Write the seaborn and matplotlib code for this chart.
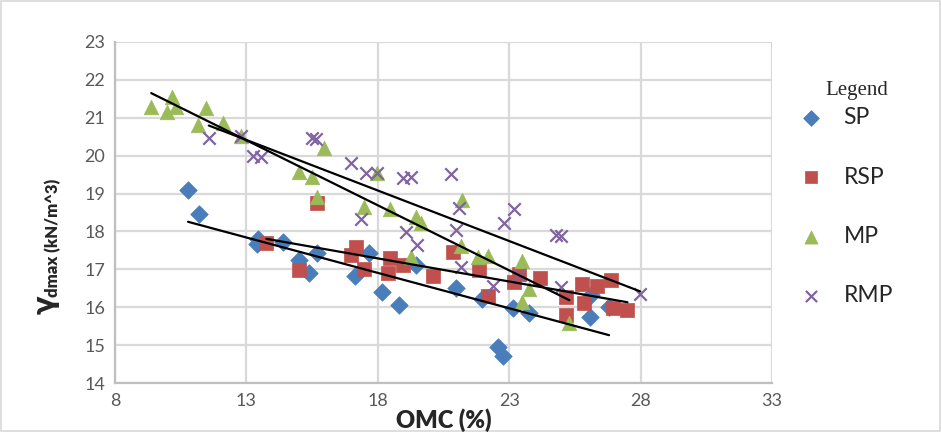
import seaborn as sns
import matplotlib.pyplot as plt
from matplotlib.patches import Rectangle

# OMC (%) and dry density values for each mix
sp_omc = [10.78, 11.19, 13.45, 13.4, 14.4, 15.0, 15.4, 15.68, 17.15, 17.67, 18.15,
          18.8, 19.46, 20.98, 21.97, 22.59, 22.78, 23.13, 23.77, 26.08, 26.1, 26.8]
sp_gd = [19.1, 18.45, 17.8, 17.67, 17.73, 17.25, 16.9, 17.44, 16.83, 17.42, 16.41,
         16.06, 17.11, 16.52, 16.21, 14.95, 14.71, 15.97, 15.84, 15.75, 16.32, 16.0]

rsp_omc = [13.76, 15.0, 15.67, 16.99, 17.18, 17.46, 18.38, 18.47, 18.95, 20.09, 20.88, 21.84,
           22.18, 23.2, 23.39, 24.18, 25.16, 25.16, 25.77, 25.86, 26.34, 26.87, 26.96, 27.5]
rsp_gd = [17.69, 16.98, 18.74, 17.38, 17.6, 17.0, 16.91, 17.29, 17.11, 16.82, 17.46, 16.98,
          16.3, 16.67, 16.89, 16.76, 16.28, 15.79, 16.61, 16.1, 16.56, 16.72, 15.97, 15.93]

mp_omc = [9.38, 9.99, 10.18, 10.33, 11.16, 11.47, 12.11, 12.78, 15.0, 15.5, 15.7, 15.97, 17.49,
          17.98, 18.47, 19.27, 19.46, 19.65, 21.17, 21.19, 21.8, 22.18, 23.49, 23.49, 23.74, 25.29]
mp_gd = [21.29, 21.14, 21.54, 21.29, 20.81, 21.25, 20.85, 20.52, 19.58, 19.43, 18.92, 20.19, 18.65,
         19.53, 18.58, 17.33, 18.39, 18.23, 17.61, 18.83, 17.33, 17.36, 17.23, 16.15, 16.48, 15.59]

rmp_omc = [11.57, 12.78, 13.27, 13.57, 15.5, 15.66, 16.99, 17.37, 17.56, 17.96, 18.95, 19.08, 19.27,
           19.48, 20.79, 20.98, 21.08, 21.17, 22.38, 22.79, 23.17, 23.39, 24.78, 24.97, 24.97, 27.98]
rmp_gd = [20.46, 20.52, 19.99, 19.97, 20.46, 20.43, 19.81, 18.32, 19.53, 19.53, 19.4, 17.99, 19.43,
          17.64, 19.51, 18.04, 18.61, 17.05, 16.56, 18.21, 18.58, 16.85, 17.91, 17.88, 16.54, 16.35]

x_ticks = [8, 13, 18, 23, 28, 33]
y_ticks = [14, 15, 16, 17, 18, 19, 20, 21, 22, 23]

sns.set_style("white")
plt.rcParams['font.family'] = ['Lato', 'DejaVu Sans']

fig = plt.figure(figsize=(9.42, 4.32), dpi=100)
ax = fig.add_axes([115 / 942, 1 - 383 / 432, 657 / 942, 341 / 432])

series = [
    ("SP", sp_omc, sp_gd, "#4a7ebb", "D", 80),
    ("RSP", rsp_omc, rsp_gd, "#c0504d", "s", 105),
    ("MP", mp_omc, mp_gd, "#9bbb59", "^", 110),
    ("RMP", rmp_omc, rmp_gd, "#8064a2", "x", 80),
]

for name, xs, ys, col, mk, sz in series:
    if mk == "x":
        sns.scatterplot(x=xs, y=ys, ax=ax, marker=mk, color=col, s=sz,
                        linewidth=1.6, label=name, zorder=3)
    else:
        sns.scatterplot(x=xs, y=ys, ax=ax, marker=mk, color=col, s=sz,
                        edgecolor=col, linewidth=0.5, label=name, zorder=3)

# linear trendlines over each data range
for name, xs, ys, col, mk, sz in series:
    sns.regplot(x=xs, y=ys, ax=ax, scatter=False, ci=None, truncate=True,
                color="black", line_kws={"linewidth": 1.6, "zorder": 4})

ax.set_xlim(8, 33)
ax.set_ylim(14, 23)
ax.set_xticks(x_ticks)
ax.set_yticks(y_ticks)
ax.grid(True, color="#d9d9d9", linewidth=1.6)
ax.set_axisbelow(True)
for side in ["top", "right"]:
    ax.spines[side].set_visible(False)
for side in ["left", "bottom"]:
    ax.spines[side].set_color("#bfbfbf")
    ax.spines[side].set_linewidth(1.6)
ax.tick_params(axis="both", length=0, labelsize=13, labelcolor="#595959", pad=7)
ax.set_xlabel("")
ax.set_ylabel("")

# axis titles
fig.text(444 / 942, 1 - 420 / 432, "OMC (%)", ha="center", va="center",
         fontsize=17, fontweight="heavy")
fig.text(46 / 942, 1 - 305 / 432, "γ", rotation=90, ha="center", va="center",
         fontsize=20, fontweight="bold", family="DejaVu Sans")
fig.text(53 / 942, 1 - 297 / 432, "dmax (kN/m^3)", rotation=90, ha="center", va="bottom",
         fontsize=12, fontweight="heavy")

handles, labels = ax.get_legend_handles_labels()
ax.legend(handles, labels, loc="upper left", bbox_to_anchor=(800 / 942, 1 - 107 / 432),
          bbox_transform=fig.transFigure, frameon=False,
          prop={"size": 16.5}, labelspacing=1.68, handletextpad=0.9,
          handlelength=1.0, borderpad=0, borderaxespad=0, markerscale=0.9)
fig.text(857 / 942, 1 - 90 / 432, "Legend", ha="center", va="center",
         fontsize=15, family="Liberation Serif")

# chart area border
fig.add_artist(Rectangle((0.001, 0.002), 0.997, 0.996, transform=fig.transFigure,
                         fill=False, edgecolor="#d9d9d9", linewidth=1.2))

fig.savefig("out.png", dpi=100)
